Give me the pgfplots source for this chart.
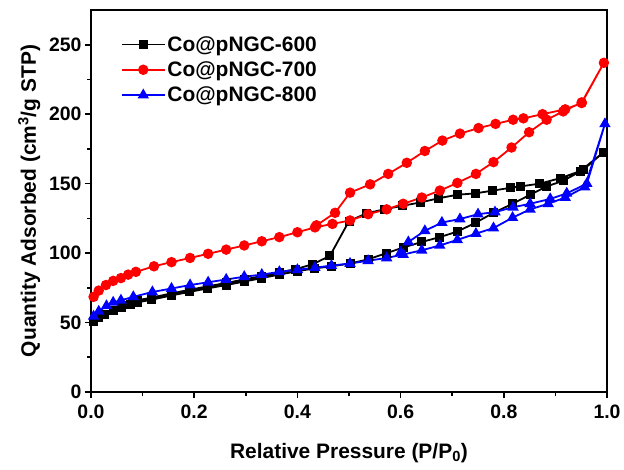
\documentclass[border=0pt]{standalone}
\usepackage{fontspec}
\setmainfont{Liberation Sans}
\usepackage{pgfplots}
\pgfplotsset{compat=1.18}

% Co@pNGC isotherms: adsorption branch first, then desorption back down
\pgfplotstableread{
x y
0.005 50.5
0.015 53.5
0.027 56
0.043 58.5
0.060 61
0.076 63
0.090 64.5
0.118 66.5
0.156 69.5
0.190 72
0.225 74.5
0.262 77
0.297 79.5
0.331 82
0.365 84.5
0.400 87
0.434 89
0.466 90.5
0.502 92.5
0.537 95.5
0.573 100
0.605 104
0.641 108
0.676 111.5
0.710 115.5
0.746 122
0.780 129
0.817 135.5
0.851 142
0.883 148
0.915 152
0.954 160
0.993 172.5
0.948 159
0.910 154
0.870 150
0.832 148
0.813 147
0.779 145
0.745 143
0.710 142
0.674 139.5
0.639 136.5
0.603 134
0.568 131.5
0.533 128.5
0.500 123
0.463 98
0.430 92
0.397 88.5
0.365 86
0.331 83.5
0.297 81
0.262 78.5
0.225 76
0.190 73.5
0.156 71
0.118 68
0.090 66
0.060 62.5
}\sixhundred

\pgfplotstableread{
x y
0.005 68.5
0.015 73
0.029 77
0.043 80
0.058 82
0.072 84.5
0.087 86.5
0.122 90.5
0.156 93.5
0.192 96.5
0.227 99.5
0.262 102.5
0.297 105.5
0.331 108.5
0.365 111.5
0.400 115
0.434 118.5
0.468 121
0.502 123.5
0.537 128
0.573 131.5
0.605 135.5
0.641 140
0.676 145
0.710 150.5
0.746 157
0.780 165.5
0.815 176
0.849 187
0.883 196
0.915 202
0.951 208.5
0.994 237
0.951 208
0.919 203.5
0.875 200
0.838 197
0.818 196
0.784 193
0.751 190
0.715 186
0.681 181
0.647 173.5
0.612 165
0.576 157
0.541 149.5
0.502 143.5
0.473 129
0.437 120
}\sevenhundred

\pgfplotstableread{
x y
0.005 54.5
0.015 58
0.030 62
0.043 64.5
0.058 66
0.082 68.5
0.119 72
0.156 74.5
0.192 77
0.227 79
0.262 81
0.297 83
0.331 84.5
0.365 86.5
0.400 88
0.434 89.5
0.466 91
0.502 92.5
0.537 94.5
0.573 96.5
0.605 99
0.641 102
0.676 105.5
0.710 109.5
0.746 114
0.780 118
0.817 125.5
0.851 131.5
0.886 135.5
0.919 140
0.957 147.5
0.996 193
0.961 150
0.922 143
0.890 139
0.851 135.5
0.818 133
0.783 129.5
0.750 128
0.715 124.5
0.680 122
0.647 116
0.615 108
0.600 100.5
}\eighthundred

\begin{document}
\begin{tikzpicture}
\useasboundingbox (-91bp,-78bp) rectangle (533bp,392bp);
\begin{axis}[
  scale only axis,
  width=516bp, height=382bp,
  xmin=0, xmax=1, ymin=0, ymax=275,
  axis line style={line width=2.4bp},
  xtick={0,0.2,...,1}, ytick={0,50,...,250},
  minor x tick num=1, minor y tick num=1,
  tick align=outside,
  xtick pos=bottom, ytick pos=left,
  major tick length=6bp, minor tick length=4bp,
  every tick/.style={line width=1.6bp, black},
  /pgf/number format/assume math mode=true,
  xticklabel style={/pgf/number format/fixed, /pgf/number format/fixed zerofill,
    /pgf/number format/precision=1, yshift=-3bp},
  ticklabel style={font=\fontsize{19.5}{21}\selectfont\bfseries},
  label style={font=\fontsize{21}{23}\selectfont\bfseries},
  xlabel={Relative Pressure (P/P\textsubscript{0})},
  ylabel={Quantity Adsorbed (cm\textsuperscript{3}/g STP)},
  xlabel style={yshift=-18bp},
  ylabel style={yshift=2bp},
  legend style={draw=none, fill=none, at={(0.058,0.937)}, anchor=north west,
    inner xsep=0pt, inner ysep=0pt,
    font=\fontsize{21}{23}\selectfont\bfseries, row sep=5bp},
  legend cell align=left,
  legend image code/.code={\draw[mark repeat=2, mark phase=2]
    plot coordinates {(0cm,0cm) (0.75cm,0cm) (1.5cm,0cm)};},
  every axis plot/.append style={line width=1.8bp},
]
\addplot[black, mark=square*, mark size=3.6bp] table {\sixhundred};
\addplot[red, mark=*, mark size=4.3bp] table {\sevenhundred};
\addplot[blue, mark=triangle*, mark size=4.8bp] table {\eighthundred};
\legend{Co@pNGC-600, Co@pNGC-700, Co@pNGC-800}
\end{axis}
\end{tikzpicture}
\end{document}
